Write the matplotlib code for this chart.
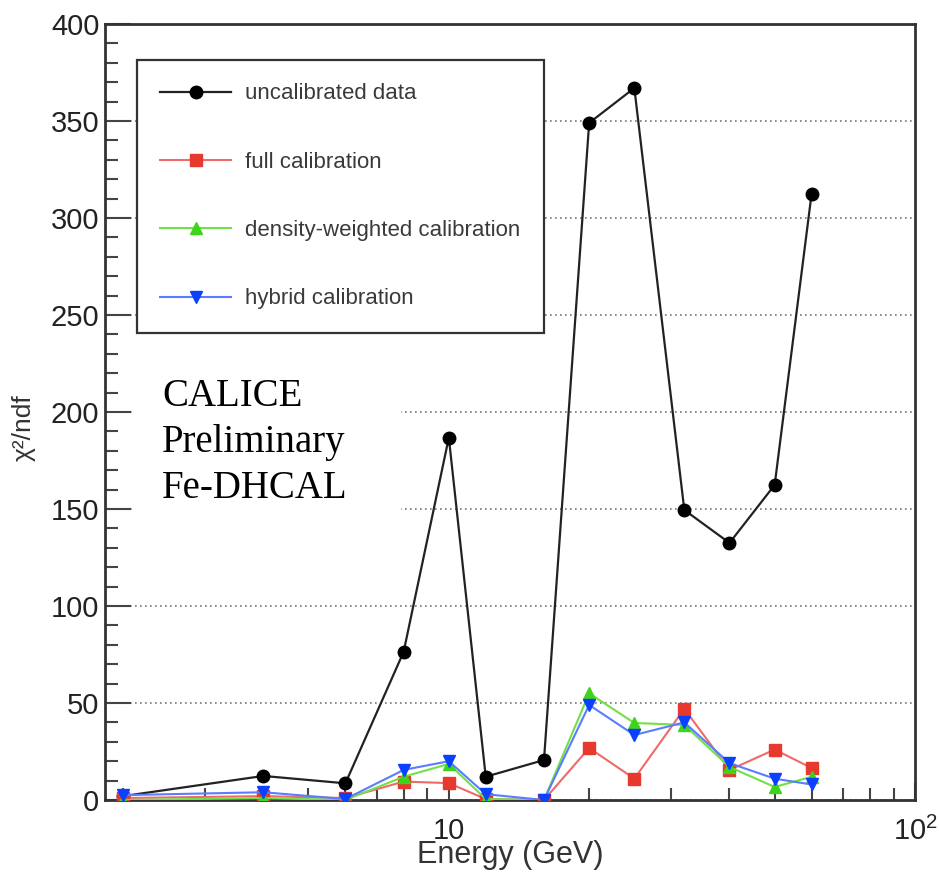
import matplotlib
matplotlib.use('Agg')
import matplotlib.pyplot as plt
from matplotlib.patches import Rectangle
from matplotlib.ticker import FixedLocator, MultipleLocator, NullFormatter

plt.rcParams['font.family'] = ['Liberation Sans', 'DejaVu Sans']
plt.rcParams['mathtext.fontset'] = 'custom'
plt.rcParams['mathtext.rm'] = 'Liberation Sans'

# chi2/ndf per beam energy
energy = [2, 4, 6, 8, 10, 12, 16, 20, 25, 32, 40, 50, 60]
uncalibrated = [2, 12.4, 8.6, 76.4, 186.8, 12, 20.6, 349, 367, 149.5, 132.5, 162.4, 312.4]
full_calib = [1, 2, 1, 9.5, 8.7, 0.5, 0, 26.8, 11, 47, 15.5, 26, 16.5]
density_calib = [0, 1, 0, 12, 18.6, 0.5, 0, 55, 39.7, 38.7, 17, 6.7, 12]
hybrid_calib = [2.5, 4, 0.5, 15.5, 20, 3, 0, 49, 33.5, 40, 19, 11, 8]

labels = ['uncalibrated data', 'full calibration',
          'density-weighted calibration', 'hybrid calibration']
xtick_vals = [10, 100]
xtick_labels = ['10', r'$\mathregular{10^{2}}$']

fig = plt.figure(figsize=(9.39, 8.72), dpi=100)
W, H = 939, 872
ax = fig.add_axes([105 / W, 72 / H, 810 / W, 776 / H])

ax.plot(energy, uncalibrated, color='#222222', lw=1.6, marker='o', ms=9,
        mfc='black', mec='black', label=labels[0], zorder=3)
ax.plot(energy, full_calib, color='#f06a6a', lw=1.5, marker='s', ms=8.5,
        mfc='#e8392f', mec='#e8392f', label=labels[1], zorder=3)
ax.plot(energy, density_calib, color='#72e048', lw=1.5, marker='^', ms=9,
        mfc='#3fd41c', mec='#3fd41c', label=labels[2], zorder=3)
ax.plot(energy, hybrid_calib, color='#5a7cff', lw=1.5, marker='v', ms=9,
        mfc='#0a40ff', mec='#0a40ff', label=labels[3], zorder=3)

ax.set_xscale('log')
ax.set_xlim(1.83, 100)
ax.set_ylim(0, 400)

ax.xaxis.set_major_locator(FixedLocator(xtick_vals))
ax.set_xticklabels(xtick_labels)
ax.xaxis.set_minor_locator(FixedLocator([2, 3, 4, 5, 6, 7, 8, 9, 20, 30, 40, 50, 60, 70, 80, 90]))
ax.xaxis.set_minor_formatter(NullFormatter())
ax.yaxis.set_major_locator(MultipleLocator(50))
ax.yaxis.set_minor_locator(MultipleLocator(10))

ax.tick_params(axis='both', which='both', direction='in', color='#444444', width=1.5,
               labelcolor='#222222', labelsize=21)
ax.tick_params(axis='y', which='major', length=19, pad=4)
ax.tick_params(axis='y', which='minor', length=9.5)
ax.tick_params(axis='x', which='major', length=12, pad=12)
ax.tick_params(axis='x', which='minor', length=9)

for s in ax.spines.values():
    s.set_color('#333333')
    s.set_linewidth(2)

ax.set_axisbelow(True)
ax.yaxis.grid(True, linestyle=(0, (1, 2)), color='#777777', lw=1.2)

ax.set_xlabel('Energy (GeV)', fontsize=22, color='#333333')
ax.xaxis.set_label_coords(0.5, -0.052)
ax.xaxis.label.set_va('top')
ax.set_ylabel('χ²/ndf', fontsize=19, color='#333333')
ax.yaxis.set_label_coords(-0.085, 0.48)

# white pave behind the CALICE label
ax.add_patch(Rectangle((0.035, 0.309), 0.33, 0.27, transform=ax.transAxes,
                       facecolor='white', edgecolor='none', zorder=1))
ax.text(0.0704, 0.461, 'CALICE\nPreliminary\nFe-DHCAL', transform=ax.transAxes,
        ha='left', va='center', fontsize=28, family=['Liberation Serif', 'DejaVu Serif'],
        color='black', linespacing=1.32, zorder=2)

leg = ax.legend(loc='upper left', bbox_to_anchor=(32 / 810, 0.9536 - 0.3, 407 / 810, 0.3),
                mode='expand', borderaxespad=0, fontsize=16, labelspacing=2.13,
                handlelength=3.2, handletextpad=0.63, borderpad=1.05,
                fancybox=False, framealpha=1, edgecolor='#333333', numpoints=1)
leg.get_frame().set_linewidth(1.6)
for t in leg.get_texts():
    t.set_color('#3a3a3a')

fig.savefig('out.png', dpi=100)
